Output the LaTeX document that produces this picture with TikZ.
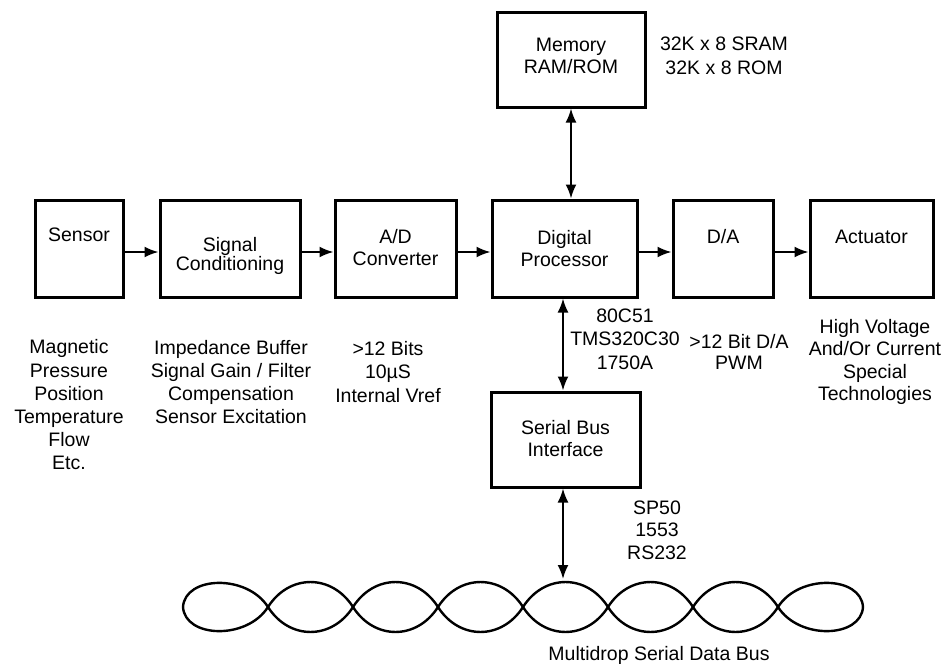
\documentclass[tikz,border=0pt]{standalone}
\usepackage{fontspec}
\setmainfont{Liberation Sans}
\usetikzlibrary{arrows.meta,calc}
\begin{document}
\begin{tikzpicture}[x=1pt,y=-1pt,
  blk/.style={draw,line width=3pt,inner sep=0pt,minimum height=95pt},
  btxt/.style={font=\fontsize{19.5}{22}\selectfont,align=center,inner sep=0pt},
  ltxt/.style={font=\fontsize{19.5}{23.2}\selectfont,align=center,inner sep=0pt},
  tip/.tip={Latex[length=14pt,width=11pt]},
  conn/.style={line width=2pt,-tip},
  biconn/.style={line width=2pt,tip-tip},
  wire/.style={line width=2.4pt}]
\useasboundingbox (0,0) rectangle (948,664);

% blocks
\node[blk,minimum width=148pt] (mem) at (571,59.5) {};
\node[blk,minimum width=88pt,minimum height=97pt] (sen) at (79,248.5) {};
\node[blk,minimum width=140pt,minimum height=97pt] (sig) at (230,248.5) {};
\node[blk,minimum width=121pt,minimum height=97pt] (ad) at (395.5,248.5) {};
\node[blk,minimum width=145pt,minimum height=97pt] (dig) at (564.5,248.5) {};
\node[blk,minimum width=100pt,minimum height=97pt] (da) at (723,248.5) {};
\node[blk,minimum width=123pt,minimum height=97pt] (act) at (871.5,248.5) {};
\node[blk,minimum width=149pt] (ser) at (565.5,439.5) {};

% block texts
\node[btxt] (memT) at (571,56) {Memory\\RAM/ROM};
\node[btxt] (senT) at (79,235) {Sensor};
\node[btxt,font=\fontsize{19.5}{19}\selectfont] (sigT) at (230,256) {Signal\\Conditioning};
\node[btxt] (adT) at (395.5,248) {A/D\\Converter};
\node[btxt] (digT) at (564.5,249) {Digital\\Processor};
\node[btxt] (daT) at (723,237) {D/A};
\node[btxt] (actT) at (871.5,237) {Actuator};
\node[btxt] (serT) at (565.5,439) {Serial Bus\\Interface};

% annotations
\node[btxt,font=\fontsize{19.5}{23.5}\selectfont] (memL) at (724,56) {32K x 8 SRAM\\32K x 8 ROM};
\node[ltxt] (senL) at (69,405) {Magnetic\\Pressure\\Position\\Temperature\\Flow\\Etc.};
\node[ltxt] (sigL) at (231,382) {Impedance Buffer\\Signal Gain / Filter\\Compensation\\Sensor Excitation};
\node[ltxt] (adL) at (388,372) {>12 Bits\\10\textmu S\\Internal Vref};
\node[ltxt,font=\fontsize{19.5}{23.5}\selectfont] (digL) at (625,339) {80C51\\TMS320C30\\1750A};
\node[ltxt,font=\fontsize{19.5}{21.5}\selectfont] (daL) at (739,352) {>12 Bit D/A\\PWM};
\node[ltxt,font=\fontsize{19.5}{22.5}\selectfont] (actL) at (875,362) {High Voltage\\And/Or Current\\Special\\Technologies};
\node[ltxt,font=\fontsize{19.5}{22.5}\selectfont] (serL) at (657,530) {SP50\\1553\\RS232};
\node[ltxt] (busL) at (659,655) {Multidrop Serial Data Bus};

% horizontal connectors
\draw[conn] (sen.east |- 0,252) -- (sig.west |- 0,252);
\draw[conn] (sig.east |- 0,252) -- (ad.west |- 0,252);
\draw[conn] (ad.east |- 0,252) -- (dig.west |- 0,252);
\draw[conn] (dig.east |- 0,252) -- (da.west |- 0,252);
\draw[conn] (da.east |- 0,252) -- (act.west |- 0,252);

% vertical connectors
\draw[biconn] (mem.south) -- (mem.south |- dig.north);
\draw[biconn] (dig.south -| 563,0) -- (ser.north -| 563,0);
\coordinate (bustop) at (563,579);
\draw[biconn] (ser.south -| bustop) -- (bustop);

% twisted pair bus
\foreach \i in {1,...,6}{
  \draw[wire] ({183+85*\i},607) .. controls ({204.25+85*\i},573.7) and ({246.75+85*\i},573.7) .. ({268+85*\i},607);
  \draw[wire] ({183+85*\i},607) .. controls ({204.25+85*\i},640.3) and ({246.75+85*\i},640.3) .. ({268+85*\i},607);
}
\draw[wire] (183,607) .. controls (185,576) and (246.75,573.7) .. (268,607);
\draw[wire] (183,607) .. controls (185,638) and (246.75,640.3) .. (268,607);
\draw[wire] (778,607) .. controls (799.25,573.7) and (861,576) .. (863,607);
\draw[wire] (778,607) .. controls (799.25,640.3) and (861,638) .. (863,607);
\end{tikzpicture}
\end{document}
